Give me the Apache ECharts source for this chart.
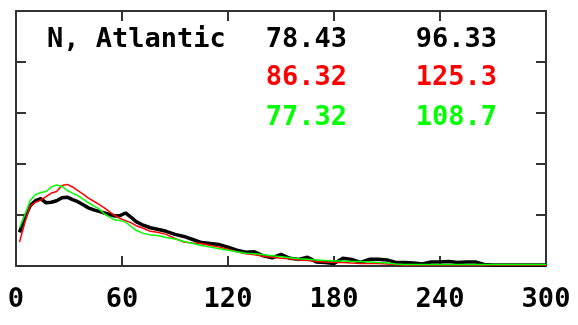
<!DOCTYPE html>
<html>
<head>
<meta charset="utf-8">
<script src="https://cdn.jsdelivr.net/npm/echarts@6/dist/echarts.min.js"></script>
<style>
    html, body { margin: 0; padding: 0; background: #fff; }
    #chart { width: 578px; height: 325px; }
</style>
</head>
<body>
<div id="chart"></div>
<script>
var xVals = [2, 5, 8, 11, 14, 17, 20, 23, 26, 29, 32, 35, 38, 41, 44, 47, 50, 53, 56, 59, 62, 65, 68, 72, 76, 80, 85, 90, 95, 100,
    105, 110, 115, 120, 125, 130, 135, 140, 145, 150, 155, 160, 165, 170, 175, 180, 185, 190, 195, 200,
    205, 210, 215, 220, 225, 230, 235, 240, 245, 250, 255, 260, 265, 270, 280, 290, 300];

var blackVals = [0.66, 0.95, 1.18, 1.28, 1.32, 1.24, 1.25, 1.28, 1.34, 1.35, 1.30, 1.26, 1.20, 1.14, 1.10, 1.07, 1.04, 1.01, 0.98, 0.99, 1.04, 0.96, 0.87, 0.80, 0.75, 0.72, 0.68, 0.62, 0.58, 0.52,
    0.46, 0.44, 0.42, 0.37, 0.31, 0.27, 0.28, 0.20, 0.16, 0.23, 0.15, 0.13, 0.17, 0.08, 0.07, 0.05, 0.15, 0.13, 0.07, 0.13,
    0.13, 0.12, 0.07, 0.07, 0.06, 0.04, 0.08, 0.08, 0.09, 0.07, 0.08, 0.08, 0.03, 0.02, 0.02, 0.02, 0.02];

var redVals = [0.47, 0.85, 1.18, 1.25, 1.29, 1.36, 1.43, 1.46, 1.58, 1.60, 1.55, 1.48, 1.41, 1.33, 1.27, 1.21, 1.14, 1.06, 0.99, 0.93, 0.89, 0.85, 0.79, 0.74, 0.68, 0.66, 0.62, 0.54, 0.47, 0.45,
    0.44, 0.40, 0.37, 0.33, 0.28, 0.24, 0.22, 0.19, 0.17, 0.15, 0.14, 0.12, 0.11, 0.09, 0.08, 0.07, 0.07, 0.06, 0.05, 0.05,
    0.05, 0.04, 0.03, 0.02, 0.02, 0.02, 0.02, 0.02, 0.02, 0.02, 0.02, 0.02, 0.02, 0.02, 0.02, 0.02, 0.02];

var greenVals = [0.75, 1.00, 1.28, 1.40, 1.44, 1.46, 1.55, 1.59, 1.56, 1.48, 1.43, 1.38, 1.31, 1.24, 1.18, 1.12, 1.02, 0.96, 0.90, 0.89, 0.86, 0.78, 0.70, 0.64, 0.61, 0.60, 0.56, 0.53, 0.48, 0.44,
    0.40, 0.37, 0.34, 0.31, 0.28, 0.25, 0.24, 0.22, 0.20, 0.18, 0.16, 0.14, 0.13, 0.12, 0.11, 0.10, 0.10, 0.09, 0.09, 0.08,
    0.07, 0.06, 0.04, 0.03, 0.03, 0.03, 0.03, 0.03, 0.03, 0.03, 0.03, 0.03, 0.03, 0.03, 0.03, 0.03, 0.03];

var regionLabel = "N, Atlantic";
var statsCol1 = ["78.43", "86.32", "77.32"];
var statsCol2 = ["96.33", "125.3", "108.7"];
var lineColors = ["#000000", "#ff0000", "#00ff00"];

function pairs(ys) {
    var out = [];
    for (var i = 0; i < xVals.length; i++) {
        out.push([xVals[i], ys[i]]);
    }
    return out;
}

var FONT = "DejaVu Sans Mono";
var axisColor = "#333333";

function frameAxis(extra) {
    var base = {
        type: "value",
        min: 0,
        splitLine: { show: false },
        axisLine: { show: true, onZero: false, lineStyle: { color: axisColor, width: 2 } },
        axisTick: { show: true, inside: true, length: 10, lineStyle: { color: axisColor, width: 2 } },
        axisLabel: { show: false }
    };
    for (var k in extra) base[k] = extra[k];
    return base;
}

var texts = [];
var rowY = [40, 78, 118];
texts.push({
    type: "text", x: 47, y: rowY[0],
    style: { text: regionLabel, fill: "#000", font: "bold 27px " + FONT, verticalAlign: "middle" }
});
for (var i = 0; i < 3; i++) {
    texts.push({
        type: "text", x: 347, y: rowY[i],
        style: { text: statsCol1[i], fill: lineColors[i], font: "bold 27px " + FONT, align: "right", verticalAlign: "middle" }
    });
    texts.push({
        type: "text", x: 497, y: rowY[i],
        style: { text: statsCol2[i], fill: lineColors[i], font: "bold 27px " + FONT, align: "right", verticalAlign: "middle" }
    });
}

var option = {
    animation: false,
    backgroundColor: "#ffffff",
    grid: { left: 16, right: 32, top: 11, bottom: 59 },
    xAxis: [
        frameAxis({
            max: 300, interval: 60, position: "bottom",
            axisLabel: { show: true, margin: 20, color: "#000", fontFamily: FONT, fontWeight: "bold", fontSize: 27 }
        }),
        frameAxis({ max: 300, interval: 60, position: "top" })
    ],
    yAxis: [
        frameAxis({ max: 5, interval: 1, position: "left" }),
        frameAxis({ max: 5, interval: 1, position: "right" })
    ],
    graphic: texts,
    series: [
        { type: "line", data: pairs(blackVals), showSymbol: false, lineStyle: { color: lineColors[0], width: 3.5 }, z: 3 },
        { type: "line", data: pairs(redVals), showSymbol: false, lineStyle: { color: lineColors[1], width: 1.5 }, z: 4 },
        { type: "line", data: pairs(greenVals), showSymbol: false, lineStyle: { color: lineColors[2], width: 1.5 }, z: 5 }
    ]
};

var myChart = echarts.init(document.getElementById("chart"));
myChart.setOption(option);
</script>
</body>
</html>
